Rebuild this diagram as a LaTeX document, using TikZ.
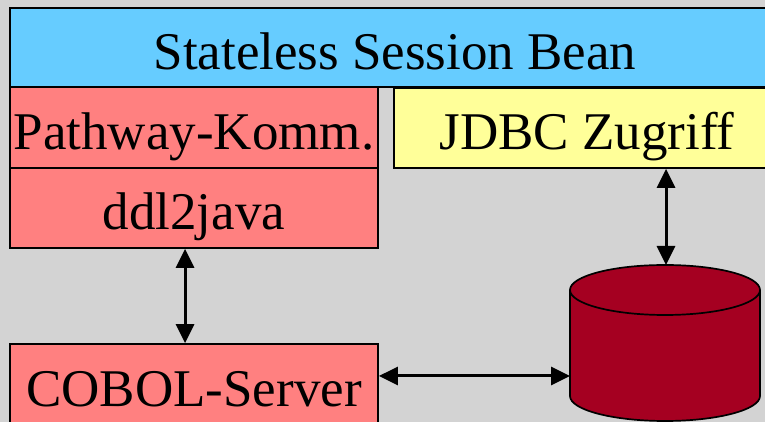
\documentclass[tikz,border=0pt]{standalone}
\usepackage{fontspec}
\setmainfont{Liberation Serif}
\usetikzlibrary{arrows.meta}

\definecolor{beanblue}{HTML}{66CCFF}
\definecolor{commred}{HTML}{FF8080}
\definecolor{jdbcyellow}{HTML}{FFFF99}
\definecolor{dbred}{HTML}{A50021}
\definecolor{panelgray}{HTML}{D3D3D3}

\tikzset{
  layer/.style={draw, line width=1.7pt, inner sep=0pt, text height=44pt, text depth=0pt,
    font=\fontsize{53}{60}\selectfont},
  link/.style={{Triangle[length=19pt,width=18pt]}-{Triangle[length=19pt,width=18pt]}, line width=3pt}
}

\begin{document}
\begin{tikzpicture}[x=1pt, y=1pt]

% Background and page frame
\fill[panelgray] (0,0) rectangle (765,422);
\useasboundingbox (0,0) rectangle (765,422);
\clip (0,0) rectangle (765,422);

% Bean and its parts
\node[layer, fill=beanblue, minimum width=770pt, minimum height=79pt] (bean) at (395,374.5) {Stateless Session Bean};
\node[layer, fill=commred, minimum width=368pt, minimum height=81pt] (pathway) at (194,294.5) {Pathway-Komm.};
\node[layer, fill=commred, minimum width=368pt, minimum height=80pt] (ddl) at (194,214) {ddl2java};
\node[layer, fill=jdbcyellow, minimum width=386pt, minimum height=80pt] (jdbc) at (587,294) {JDBC Zugriff};

% Server
\node[layer, fill=commred, minimum width=368pt, minimum height=82pt] (cobol) at (194,37) {COBOL-Server};

% Database cylinder
\filldraw[dbred, draw=black, line width=1.7pt]
  (570,132) -- (570,26) arc[start angle=180, end angle=360, x radius=95, y radius=25]
  -- (760,132) arc[start angle=0, end angle=180, x radius=95, y radius=25] -- cycle;
\draw[line width=1.7pt] (570,132) arc[start angle=180, end angle=360, x radius=95, y radius=25];
\coordinate (dbtop) at (666,157);
\coordinate (dbleft) at (570,46);

% Connections
\draw[link] ([xshift=-9pt]ddl.south) -- ([xshift=-9pt]cobol.north);
\draw[link] (jdbc.south -| dbtop) -- (dbtop);
\draw[link] (cobol.east |- dbleft) -- (dbleft);

\end{tikzpicture}
\end{document}
